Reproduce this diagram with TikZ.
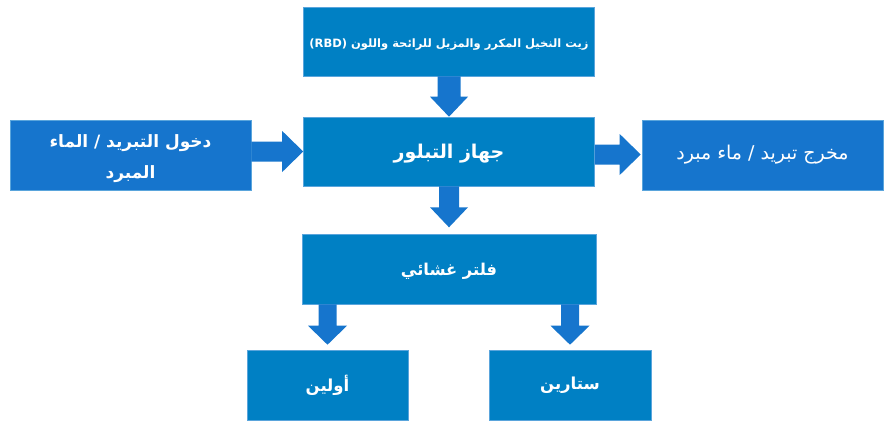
\documentclass[tikz,border=0pt]{standalone}
\usepackage{fontspec}
\usetikzlibrary{calc}
\TeXXeTstate=1
\newfontfamily\arabicfont[Script=Arabic]{DejaVu Sans}
\definecolor{mainblue}{RGB}{0,128,196}
\definecolor{sideblue}{RGB}{22,117,205}
\definecolor{edgeblue}{RGB}{90,165,220}
\newcommand\lowertext[2]{\raisebox{-#1}[\height][\depth]{#2}}
\tikzset{
  box/.style={fill=mainblue, draw=edgeblue, line width=0.6pt, text=white, align=center, inner sep=0pt, font=\arabicfont},
  sidebox/.style={box, fill=sideblue},
  arr/.style={fill=sideblue, draw=none}
}
\begin{document}
\begin{tikzpicture}[x=1pt,y=-1pt]
\useasboundingbox (0,0) rectangle (889,424);
\node[box, minimum width=291pt, minimum height=69pt, font=\arabicfont\bfseries\fontsize{11.5}{14}\selectfont] (top) at (449,41.5) {\lowertext{3pt}{\beginR زيت النخيل المكرر والمزيل للرائحة واللون \beginL(RBD)\endL\endR}};
\node[box, minimum width=291pt, minimum height=69pt, font=\arabicfont\bfseries\fontsize{19}{22}\selectfont] (mid) at (449,151.5) {\lowertext{2pt}{\beginR جهاز التبلور\endR}};
\node[sidebox, minimum width=241pt, minimum height=70pt, font=\arabicfont\bfseries\fontsize{17}{31}\selectfont] (inlet) at (130.5,155) {\lowertext{4pt}{\beginR دخول التبريد / الماء\endR}\\\lowertext{4pt}{\beginR المبرد\endR}};
\node[sidebox, minimum width=241pt, minimum height=70pt, font=\arabicfont\fontsize{19}{22}\selectfont] (outlet) at (762.5,155) {\beginR مخرج تبريد / ماء مبرد\endR};
\node[box, minimum width=294pt, minimum height=70pt, font=\arabicfont\bfseries\fontsize{16.3}{20}\selectfont] (filter) at (449,269) {\lowertext{2pt}{\beginR فلتر غشائي\endR}};
\node[box, minimum width=161pt, minimum height=70pt, font=\arabicfont\bfseries\fontsize{16.5}{20}\selectfont] (olein) at (327.5,385) {\beginR أولين\endR};
\node[box, minimum width=162pt, minimum height=70pt, font=\arabicfont\bfseries\fontsize{16.5}{20}\selectfont] (stearin) at (570,385) {\beginR ستارين\endR};
% vertical arrows
\fill[arr] ($(top.south)+(-11.5,0)$) -- ($(mid.north)+(-11.5,-20)$) -- ($(mid.north)+(-19,-20)$) -- (mid.north) -- ($(mid.north)+(19,-20)$) -- ($(mid.north)+(11.5,-20)$) -- ($(top.south)+(11.5,0)$) -- cycle;
\coordinate (m2) at ($(mid.south)+(0,41)$);
\fill[arr] ($(mid.south)+(-10,0)$) -- ($(m2)+(-10,-20)$) -- ($(m2)+(-19,-20)$) -- (m2) -- ($(m2)+(19,-20)$) -- ($(m2)+(10,-20)$) -- ($(mid.south)+(10,0)$) -- cycle;
\coordinate (s1) at (olein.north |- filter.south);
\coordinate (t1) at ($(olein.north)+(0,-5)$);
\fill[arr] ($(s1)+(-9,0)$) -- ($(t1)+(-9,-19)$) -- ($(t1)+(-19.5,-19)$) -- (t1) -- ($(t1)+(19.5,-19)$) -- ($(t1)+(9,-19)$) -- ($(s1)+(9,0)$) -- cycle;
\coordinate (s2) at (stearin.north |- filter.south);
\coordinate (t2) at ($(stearin.north)+(0,-5)$);
\fill[arr] ($(s2)+(-9,0)$) -- ($(t2)+(-9,-19)$) -- ($(t2)+(-19.5,-19)$) -- (t2) -- ($(t2)+(19.5,-19)$) -- ($(t2)+(9,-19)$) -- ($(s2)+(9,0)$) -- cycle;
% horizontal arrows
\coordinate (h1s) at (inlet.east |- mid.west);
\fill[arr] ($(h1s)+(0,-10)$) -- ($(mid.west)+(-21,-10)$) -- ($(mid.west)+(-21,-20.5)$) -- (mid.west) -- ($(mid.west)+(-21,20.5)$) -- ($(mid.west)+(-21,10)$) -- ($(h1s)+(0,10)$) -- cycle;
\coordinate (h2t) at ($(outlet.west |- mid.east)+(-1,3)$);
\coordinate (h2s) at ($(mid.east)+(0,3)$);
\fill[arr] ($(h2s)+(0,-10)$) -- ($(h2t)+(-21,-10)$) -- ($(h2t)+(-21,-20.5)$) -- (h2t) -- ($(h2t)+(-21,20.5)$) -- ($(h2t)+(-21,10)$) -- ($(h2s)+(0,10)$) -- cycle;
\end{tikzpicture}
\end{document}
